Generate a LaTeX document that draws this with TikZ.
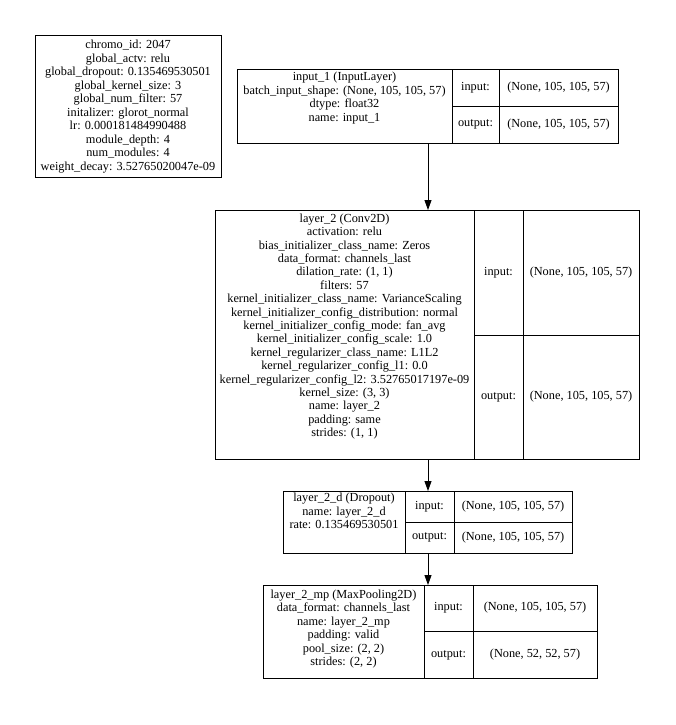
\documentclass[tikz,border=0pt]{standalone}
\usepackage{fontspec}
\setmainfont{Liberation Serif}
\usetikzlibrary{arrows.meta}
\begin{document}
\begin{tikzpicture}[x=1pt,y=-1pt,
  cellbox/.style={draw=black,line width=0.9pt,inner sep=0pt,anchor=north west},
  txt/.style={font=\fontsize{12.3}{13.4}\selectfont,align=center,inner sep=0pt},
  chromotxt/.style={font=\fontsize{12.3}{13.55}\selectfont,align=center,inner sep=0pt},
  divider/.style={draw=black,line width=0.9pt},
  arr/.style={draw=black,line width=0.9pt,-{Triangle[length=10pt,width=7pt]}}]
\useasboundingbox (0,0) rectangle (676,725);
\fill[white] (0,0) rectangle (676,725);

% chromosome info box
\node[cellbox,minimum width=186pt,minimum height=142pt] (chromo) at (35,35) {};
\node[chromotxt] (chromotext) at (128,106.5) {chromo\_id: 2047\\global\_actv: relu\\global\_dropout: 0.135469530501\\global\_kernel\_size: 3\\global\_num\_filter: 57\\initalizer: glorot\_normal\\lr: 0.000181484990488\\module\_depth: 4\\num\_modules: 4\\weight\_decay: 3.52765020047e-09};

% input_1
\node[cellbox,minimum width=381pt,minimum height=74pt] (in1) at (237,69) {};
\draw[divider] (452,69) -- (452,143);
\draw[divider] (499,69) -- (499,143);
\draw[divider] (452,106) -- (618,106);
\node[txt] (in1text) at (344.5,98) {input\_1 (InputLayer)\\batch\_input\_shape: (None, 105, 105, 57)\\dtype: float32\\name: input\_1};
\node[txt] (in1inl) at (475.5,87.5) {input:};
\node[txt] (in1outl) at (475.5,124.5) {output:};
\node[txt] (in1inv) at (558.5,87.5) {(None, 105, 105, 57)};
\node[txt] (in1outv) at (558.5,124.5) {(None, 105, 105, 57)};

% layer_2
\node[cellbox,minimum width=424pt,minimum height=249pt] (conv) at (215,210) {};
\draw[divider] (474,210) -- (474,459);
\draw[divider] (523,210) -- (523,459);
\draw[divider] (474,335) -- (639,335);
\node[txt] (convtext) at (344.5,326.5) {layer\_2 (Conv2D)\\activation: relu\\bias\_initializer\_class\_name: Zeros\\data\_format: channels\_last\\dilation\_rate: (1, 1)\\filters: 57\\kernel\_initializer\_class\_name: VarianceScaling\\kernel\_initializer\_config\_distribution: normal\\kernel\_initializer\_config\_mode: fan\_avg\\kernel\_initializer\_config\_scale: 1.0\\kernel\_regularizer\_class\_name: L1L2\\kernel\_regularizer\_config\_l1: 0.0\\kernel\_regularizer\_config\_l2: 3.52765017197e-09\\kernel\_size: (3, 3)\\name: layer\_2\\padding: same\\strides: (1, 1)};
\node[txt] (convinl) at (498.5,272.5) {input:};
\node[txt] (convoutl) at (498.5,397) {output:};
\node[txt] (convinv) at (581,272.5) {(None, 105, 105, 57)};
\node[txt] (convoutv) at (581,397) {(None, 105, 105, 57)};

% layer_2_d
\node[cellbox,minimum width=289pt,minimum height=62pt] (drop) at (283,491) {};
\draw[divider] (405,491) -- (405,553);
\draw[divider] (454,491) -- (454,553);
\draw[divider] (405,522) -- (572,522);
\node[txt] (droptext) at (344,511) {layer\_2\_d (Dropout)\\name: layer\_2\_d\\rate: 0.135469530501};
\node[txt] (dropinl) at (429.5,506.5) {input:};
\node[txt] (dropoutl) at (429.5,537.5) {output:};
\node[txt] (dropinv) at (513,506.5) {(None, 105, 105, 57)};
\node[txt] (dropoutv) at (513,537.5) {(None, 105, 105, 57)};

% layer_2_mp
\node[cellbox,minimum width=334pt,minimum height=93pt] (pool) at (263,585) {};
\draw[divider] (424,585) -- (424,678);
\draw[divider] (473,585) -- (473,678);
\draw[divider] (424,631.5) -- (597,631.5);
\node[txt] (pooltext) at (343.5,629) {layer\_2\_mp (MaxPooling2D)\\data\_format: channels\_last\\name: layer\_2\_mp\\padding: valid\\pool\_size: (2, 2)\\strides: (2, 2)};
\node[txt] (poolinl) at (448.5,608) {input:};
\node[txt] (pooloutl) at (448.5,655) {output:};
\node[txt] (poolinv) at (535,608) {(None, 105, 105, 57)};
\node[txt] (pooloutv) at (535,655) {(None, 52, 52, 57)};

% connectors
\coordinate (ax) at (428,0);
\draw[arr] (in1.south -| ax) -- (conv.north -| ax);
\draw[arr] (conv.south -| ax) -- (drop.north -| ax);
\draw[arr] (drop.south -| ax) -- (pool.north -| ax);
\end{tikzpicture}
\end{document}
